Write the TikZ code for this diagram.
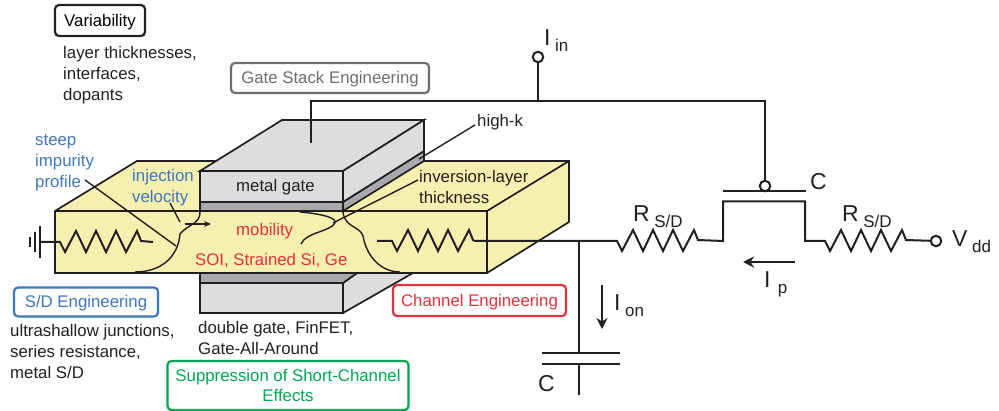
\documentclass[tikz,border=0pt]{standalone}
\usepackage{fontspec}
\usepackage{tikz}
\setmainfont{Liberation Sans}
\usetikzlibrary{arrows.meta}

\definecolor{ink}{HTML}{231F20}
\definecolor{silicon}{HTML}{F5EFB0}
\definecolor{gatefill}{HTML}{DCDDDF}
\definecolor{oxide}{HTML}{A7A9AC}
\definecolor{bluetxt}{HTML}{3F76BC}
\definecolor{redtxt}{HTML}{E0323C}
\definecolor{greentxt}{HTML}{00A651}
\definecolor{graytxt}{HTML}{6D6E70}

\newcommand{\sublabel}[2]{{\fontsize{23}{23}\selectfont #1}\hspace{4.5pt}\raisebox{-5.5pt}{\fontsize{17}{17}\selectfont #2}}

\begin{document}
\begin{tikzpicture}
[x=1pt,y=-1pt,>=Stealth,line join=miter,
wire/.style = {draw=ink, line width=2pt},
thin wire/.style = {draw=ink, line width=1.4pt},
solid/.style = {draw=ink, line width=1.7pt},
term/.style = {draw=ink, circle, fill=white, line width=2pt, minimum size=10.5pt, inner sep=0pt},
txt/.style = {anchor=west, font=\fontsize{16.8}{21}\selectfont, align=left, text=ink, inner sep=0pt},
tag/.style = {rounded corners=4pt, line width=2.2pt, inner sep=0pt, font=\fontsize{16.8}{20}\selectfont, align=center, execute at begin node={\rule{0pt}{14.5pt}}},
big/.style = {anchor=base west, text=ink, inner sep=0pt},
]
\useasboundingbox (0,0) rectangle (999,411);

\def\zigzag{-- ++(5,10) -- ++(11,-21) -- ++(10,21) -- ++(10,-21) -- ++(10,21) -- ++(10,-21) -- ++(10,21) -- ++(11,-21) -- ++(4,10)}

% bottom gate
\filldraw [solid,fill=gatefill] (343,313)--(413,273)--(357,273)--(343,283)--cycle;
\filldraw [solid,fill=oxide] (343,283)--(357,273)--(200,273)--(200,283)--cycle;
\filldraw [solid,fill=gatefill] (200,283) rectangle (343,313);

% silicon body
\filldraw [solid,fill=silicon] (55,211)--(137,161)--(569,161)--(569,222)--(487,273)--(55,273)--cycle;
\draw [solid] (55,211)--(487,211)--(569,161);
\draw [solid] (487,211)--(487,273);

% top gate
\filldraw [solid,fill=oxide] (343,202)--(424,151)--(424,161)--(343,211)--cycle;
\filldraw [solid,fill=oxide] (200,202) rectangle (343,211);
\filldraw [solid,fill=gatefill] (200,171)--(282,120)--(424,120)--(343,171)--cycle;
\filldraw [solid,fill=gatefill] (343,171)--(424,120)--(424,151)--(343,202)--cycle;
\filldraw [solid,fill=gatefill] (200,171) rectangle (343,202);

% junction profiles
\draw [thin wire] (200,211) .. controls (201,224) and (188,224) .. (180,234) .. controls (178,258) and (160,272) .. (135,272);
\draw [thin wire] (343,212) .. controls (345,228) and (360,226) .. (363,236) .. controls (367,258) and (382,272) .. (400,272);
\draw [thin wire] (300,212) .. controls (323,214) and (337,218) .. (335,223) .. controls (330,232) and (306,232) .. (301,244);

% pointers
\coordinate (impS) at (85,180);
\coordinate (impE) at (176,246);
\coordinate (injS) at (170,203);
\coordinate (injE) at (180,222);
\coordinate (velS) at (185,224);
\coordinate (velE) at (211,224);
\coordinate (invS) at (418,180);
\coordinate (invE) at (333,223);
\coordinate (hikS) at (475,125);
\coordinate (hikE) at (419,159);
\draw [thin wire] (impS)--(impE);
\draw [thin wire] (injS)--(injE);
\draw [thin wire,-{Stealth[length=7pt,width=6pt]}] (velS)--(velE);
\draw [thin wire] (invS)--(invE);
\draw [thin wire] (hikS)--(hikE);

% ground and source resistor
\coordinate (gnd) at (40,242);
\draw [wire] (40,226)--(40,258);
\draw [wire] (35,232)--(35,252);
\draw [wire] (30,237)--(30,247);
\draw [wire] (gnd) -- ++(20,0) \zigzag -- (153,242);

% circuit
\node (Iin) at (538,57)[term] {};
\node (Gate) at (765,186)[term] {};
\node (Vdd) at (936,241)[term] {};
\coordinate (split) at (538,101);
\coordinate (gateT) at (311,101);
\coordinate (gateB) at (311,143);
\coordinate (gateR) at (765,101);
\coordinate (node) at (579,241);
\coordinate (plateA) at (579,353);
\coordinate (plateB) at (579,364);
\coordinate (capEnd) at (579,395);
\draw [wire] (Iin)--(split);
\draw [wire] (gateB)--(gateT)--(gateR)--(Gate);
\draw [wire] (723,191)--(806,191);
\draw [wire] (377,241) -- ++(15,0) \zigzag -- (475,241)--(617,241) \zigzag -- (723,241)--(723,201.5)--(805,201.5)--(805,241)--(825,241) \zigzag -- (Vdd);
\draw [wire] (node)--(plateA);
\draw [wire] (plateB)--(capEnd);
\draw [wire] (542,353)--(620,353);
\draw [wire] (542,364)--(620,364);
\draw [wire,-{Stealth[length=11pt,width=11pt]}] (602,285)--(602,329);
\draw [wire,-{Stealth[length=11pt,width=11pt]}] (795,262)--(743,262);

% circuit labels
\node (IinL) at (544,46)[big] {\sublabel{I}{in}};
\node (RA) at (633,222)[big] {\sublabel{R}{S/D}};
\node (RB) at (842,222)[big] {\sublabel{R}{S/D}};
\node (CG) at (810,190)[big] {\sublabel{C}{}};
\node (VddL) at (952,247)[big] {\sublabel{V}{dd}};
\node (IpL) at (764,288)[big] {\sublabel{I}{\,p}};
\node (IonL) at (614,311)[big] {\sublabel{I}{on}};
\node (CL) at (538,392)[big] {\sublabel{C}{}};

% tags
\node (Var) at (100,20.5)[tag,draw=ink,minimum width=90pt,minimum height=31pt] {Variability};
\node (GS) at (330,78)[tag,draw=graytxt,text=graytxt,minimum width=198pt,minimum height=30pt] {Gate Stack Engineering};
\node (SD) at (86,302)[tag,draw=bluetxt,text=bluetxt,minimum width=144pt,minimum height=29pt] {S/D Engineering};
\node (CE) at (479.5,300.5)[tag,draw=redtxt,text=redtxt,minimum width=173pt,minimum height=31pt] {Channel Engineering};
\node (SC) at (288,385.5)[tag,draw=greentxt,text=greentxt,minimum width=241pt,minimum height=49pt] {Suppression of Short-Channel\\Effects};

% texts
\node (VarT) at (63,75.5)[txt] {layer thicknesses,\\interfaces,\\dopants};
\node (Imp) at (35,163)[txt,text=bluetxt] {steep\\impurity\\profile};
\node (Inj) at (132,188)[txt,text=bluetxt] {injection\\velocity};
\node (MG) at (236,187)[txt] {metal gate};
\node (Mob) at (236,231)[txt,text=redtxt] {mobility};
\node (SOI) at (195,260)[txt,text=redtxt] {SOI, Strained Si, Ge};
\node (Hik) at (477,122.5)[txt] {high-k};
\node (Inv) at (419,186.5)[txt] {inversion-layer\\thickness};
\node (SDT) at (10,351)[txt] {ultrashallow junctions,\\series resistance,\\metal S/D};
\node (DG) at (198,338)[txt] {double gate, FinFET,\\Gate-All-Around};

\end{tikzpicture}
\end{document}
